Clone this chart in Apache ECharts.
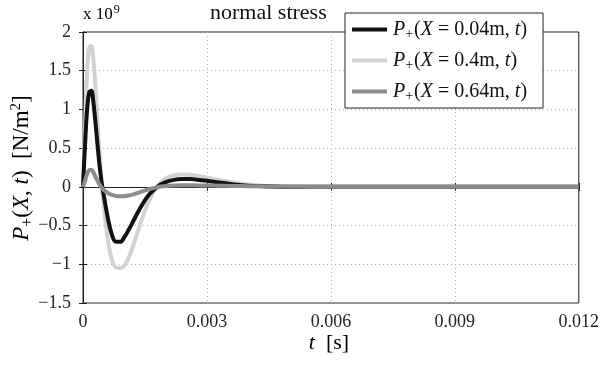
<!DOCTYPE html>
<html>
<head>
<meta charset="utf-8">
<script src="https://cdn.jsdelivr.net/npm/echarts@6/dist/echarts.min.js"></script>
<style>
  html, body { margin: 0; padding: 0; background: #fff; }
  #chart { width: 602px; height: 366px; }
</style>
</head>
<body>
<div id="chart"></div>
<script>
// time in ms, pressure in units of 1e9 N/m^2
const timeMs = [0, 0.05, 0.1, 0.15, 0.2, 0.25, 0.3, 0.35, 0.4, 0.45, 0.5, 0.6, 0.7, 0.8, 0.9, 1.0, 1.1, 1.2, 1.4, 1.6, 1.8, 2.0, 2.2, 2.4, 2.6, 2.8, 3.0, 3.3, 3.6, 4.0, 4.5, 5, 6, 7, 8, 9, 10, 11, 12];

const p004 = [0, 0.55, 1.0, 1.22, 1.24, 1.1, 0.84, 0.55, 0.28, 0.06, -0.1, -0.4, -0.62, -0.71, -0.71, -0.65, -0.56, -0.46, -0.26, -0.1, 0.0, 0.06, 0.09, 0.1, 0.1, 0.09, 0.08, 0.055, 0.035, 0.015, 0.005, 0, 0, 0, 0, 0, 0, 0, 0];
const p04 = [0, 0.8, 1.5, 1.8, 1.82, 1.65, 1.3, 0.86, 0.44, 0.08, -0.22, -0.68, -0.94, -1.04, -1.05, -1.02, -0.92, -0.78, -0.46, -0.18, 0.01, 0.11, 0.15, 0.16, 0.155, 0.14, 0.12, 0.09, 0.06, 0.03, 0.01, 0, 0, 0, 0, 0, 0, 0, 0];
const p064 = [0, 0.08, 0.17, 0.215, 0.22, 0.19, 0.13, 0.08, 0.03, -0.01, -0.04, -0.08, -0.105, -0.118, -0.122, -0.12, -0.112, -0.1, -0.065, -0.03, -0.005, 0.01, 0.018, 0.02, 0.02, 0.019, 0.018, 0.015, 0.012, 0.008, 0.005, 0.003, 0.001, 0, 0, 0, 0, 0, 0];

const seriesNames = ['X = 0.04m', 'X = 0.4m', 'X = 0.64m'];
const xTicks = ['0', '0.003', '0.006', '0.009', '0.012'];
const yTicks = {'-1.5': '\u22121.5', '-1': '\u22121', '-0.5': '\u22120.5', '0': '0', '0.5': '0.5', '1': '1', '1.5': '1.5', '2': '2'};

const serif = '"Liberation Serif", "DejaVu Serif", serif';
const zip = arr => timeMs.map((t, i) => [t, arr[i]]);

const chart = echarts.init(document.getElementById('chart'));

const mathRich = {
  i: { fontFamily: serif, fontStyle: 'italic', fontSize: 20, color: '#111' },
  n: { fontFamily: serif, fontSize: 20, color: '#111' },
  sub: { fontFamily: serif, fontSize: 14, color: '#111', lineHeight: 14, padding: [9, 1, 0, 0] }
};

const option = {
  animation: false,
  backgroundColor: '#fff',
  grid: {
    left: 83, right: 20, top: 32, bottom: 63,
    show: true, borderColor: '#222', borderWidth: 1, backgroundColor: 'transparent'
  },
  xAxis: [{
    type: 'value', min: 0, max: 12, interval: 3,
    axisLine: { lineStyle: { color: '#222', width: 1 } },
    axisTick: { inside: true, length: 4, lineStyle: { color: '#222' } },
    axisLabel: {
      margin: 10, color: '#222', fontFamily: serif, fontSize: 18,
      formatter: v => xTicks[Math.round(v / 3)]
    },
    splitLine: { lineStyle: { color: '#aaa', type: [1, 3], width: 1 } }
  }, {
    type: 'value', position: 'top', min: 0, max: 12, interval: 3,
    axisLine: { show: true, lineStyle: { color: '#222' } },
    axisTick: { inside: true, length: 4, lineStyle: { color: '#222' } },
    axisLabel: { show: false }, splitLine: { show: false }
  }],
  yAxis: [{
    type: 'value', min: -1.5, max: 2, interval: 0.5,
    axisLine: { show: true, lineStyle: { color: '#222', width: 1 } },
    axisTick: { show: true, inside: true, length: 4, lineStyle: { color: '#222' } },
    axisLabel: {
      margin: 12, color: '#222', fontFamily: serif, fontSize: 18,
      formatter: v => yTicks[String(v)]
    },
    splitLine: { lineStyle: { color: '#aaa', type: [1, 3], width: 1 } }
  }, {
    type: 'value', position: 'right', min: -1.5, max: 2, interval: 0.5,
    axisLine: { show: true, lineStyle: { color: '#222' } },
    axisTick: { show: true, inside: true, length: 4, lineStyle: { color: '#222' } },
    axisLabel: { show: false }, splitLine: { show: false }
  }],
  legend: {
    orient: 'vertical', left: 345, top: 13,
    backgroundColor: '#fff', borderColor: '#222', borderWidth: 1,
    padding: [5, 16, 5, 7], itemGap: 8,
    itemWidth: 35, itemHeight: 4, icon: 'rect',
    data: seriesNames,
    formatter: name => '{i|P}{sub|+}{n|(}{i|X}{n| = ' + name.slice(4) + ', }{i|t}{n|)}',
    textStyle: { lineHeight: 23, padding: [0, 0, 0, 1], rich: mathRich }
  },
  graphic: [
    {
      type: 'text', left: 210, top: 2,
      style: { text: 'normal stress', font: '22px ' + serif, fill: '#111' }
    },
    {
      type: 'text', left: 83, top: 4,
      style: {
        text: '{n|x 10}{sup|9}',
        rich: {
          n: { fontFamily: serif, fontSize: 17, color: '#222' },
          sup: { fontFamily: serif, fontSize: 12, color: '#222', lineHeight: 12, padding: [0, 0, 10, 1] }
        }
      }
    },
    {
      type: 'text', x: 22, y: 168, rotation: Math.PI / 2,
      style: {
        text: '{i|P}{sub|+}{n|(}{i|X}{n|, }{i|t}{n|)  [N/m}{sup|2}{n|]}',
        align: 'center', verticalAlign: 'middle',
        rich: {
          i: { fontFamily: serif, fontStyle: 'italic', fontSize: 23, color: '#111' },
          n: { fontFamily: serif, fontSize: 23, color: '#111' },
          sub: { fontFamily: serif, fontSize: 16, color: '#111', lineHeight: 16, padding: [12, 0, 0, 0] },
          sup: { fontFamily: serif, fontSize: 15, color: '#111', lineHeight: 15, padding: [0, 0, 12, 0] }
        }
      }
    },
    {
      type: 'text', x: 329, y: 343,
      style: {
        text: '{i|t}{n|  [s]}', align: 'center', verticalAlign: 'middle',
        rich: {
          i: { fontFamily: serif, fontStyle: 'italic', fontSize: 22, color: '#111' },
          n: { fontFamily: serif, fontSize: 22, color: '#111' }
        }
      }
    }
  ],
  series: [
    { name: seriesNames[0], type: 'line', data: zip(p004), smooth: 0.4, showSymbol: false, z: 4,
      lineStyle: { color: '#111', width: 4 }, itemStyle: { color: '#111' } },
    { name: seriesNames[1], type: 'line', data: zip(p04), smooth: 0.4, showSymbol: false, z: 3,
      lineStyle: { color: '#d2d2d2', width: 4 }, itemStyle: { color: '#d2d2d2' } },
    { name: seriesNames[2], type: 'line', data: zip(p064), smooth: 0.4, showSymbol: false, z: 5,
      lineStyle: { color: '#8c8c8c', width: 4 }, itemStyle: { color: '#8c8c8c' } }
  ]
};

chart.setOption(option);
</script>
</body>
</html>
